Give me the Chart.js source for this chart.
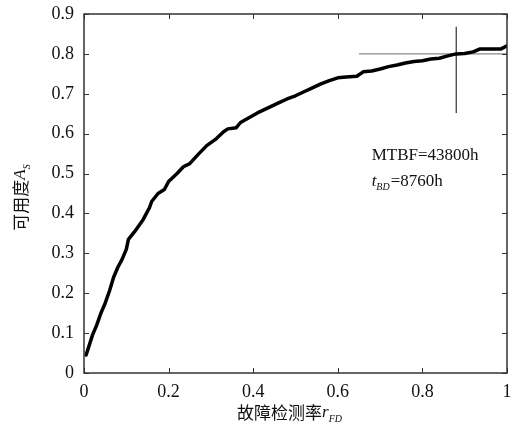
<!DOCTYPE html>
<html><head><meta charset="utf-8">
<script src="https://cdn.jsdelivr.net/npm/chart.js@4.4.0/dist/chart.umd.min.js"></script>
<style>html,body{margin:0;padding:0;background:#fff}#wrap{width:519px;height:432px}</style>
</head><body><div id="wrap"><canvas id="c" width="519" height="432"></canvas></div>
<script>
const rFD = [0.005,0.02,0.03,0.04,0.05,0.06,0.07,0.08,0.09,0.10,0.105,0.12,0.14,0.155,0.16,0.175,0.19,0.2,0.22,0.235,0.25,0.27,0.29,0.31,0.33,0.34,0.36,0.37,0.39,0.41,0.44,0.46,0.48,0.50,0.52,0.54,0.56,0.58,0.60,0.62,0.645,0.66,0.68,0.70,0.72,0.74,0.76,0.78,0.80,0.82,0.84,0.86,0.88,0.90,0.92,0.935,0.96,0.985,1.0];
const As  = [0.045,0.095,0.12,0.15,0.175,0.205,0.24,0.265,0.285,0.31,0.335,0.355,0.385,0.415,0.43,0.45,0.46,0.48,0.50,0.517,0.525,0.548,0.57,0.585,0.605,0.612,0.615,0.628,0.64,0.652,0.667,0.677,0.687,0.695,0.705,0.715,0.725,0.733,0.74,0.742,0.744,0.755,0.757,0.762,0.768,0.772,0.777,0.781,0.783,0.787,0.789,0.795,0.800,0.801,0.805,0.812,0.812,0.812,0.82];
const hLineX = [0.65, 1.0];
const hLineY = [0.8, 0.8];
const vLineX = [0.88, 0.88];
const vLineY = [0.652, 0.868];
const xTicks = [0,0.2,0.4,0.6,0.8,1];
const yTicks = [0,0.1,0.2,0.3,0.4,0.5,0.6,0.7,0.8,0.9];
const note1 = "MTBF=43800h";
const note2sym = "t", note2sub = "BD", note2rest = "=8760h";
const notePos = {x:0.68, y1:0.546, y2:0.479};
const xTitle = ["故障检测率","r","FD"];
const yTitle = ["可用度","A","S"];

const zip = (a,b)=>a.map((v,i)=>({x:v,y:b[i]}));
const SERIF = '"Liberation Serif","Times New Roman",serif';
const CJK = '"Noto Sans CJK SC",sans-serif';

const deco = {
  id:'deco',
  afterDraw(chart){
    const {ctx, chartArea:a, scales:{x,y}} = chart;
    ctx.save();
    ctx.strokeStyle='#333'; ctx.lineWidth=1.5;
    ctx.strokeRect(a.left,a.top,a.right-a.left,a.bottom-a.top);
    ctx.lineWidth=1;
    const L=5;
    xTicks.forEach(v=>{ const px=Math.round(x.getPixelForValue(v))+0.5;
      ctx.beginPath(); ctx.moveTo(px,a.bottom); ctx.lineTo(px,a.bottom-L);
      ctx.moveTo(px,a.top); ctx.lineTo(px,a.top+L); ctx.stroke(); });
    yTicks.forEach(v=>{ const py=Math.round(y.getPixelForValue(v))+0.5;
      ctx.beginPath(); ctx.moveTo(a.left,py); ctx.lineTo(a.left+L,py);
      ctx.moveTo(a.right,py); ctx.lineTo(a.right-L,py); ctx.stroke(); });
    ctx.fillStyle='#111'; ctx.textBaseline='middle'; ctx.textAlign='left';
    const nx=x.getPixelForValue(notePos.x);
    ctx.font='17px '+SERIF;
    ctx.fillText(note1,nx,y.getPixelForValue(notePos.y1));
    let ny=y.getPixelForValue(notePos.y2);
    ctx.font='italic 17px '+SERIF;
    ctx.fillText(note2sym,nx,ny);
    let w=ctx.measureText(note2sym).width;
    ctx.font='italic 10px '+SERIF;
    ctx.fillText(note2sub,nx+w,ny+5);
    w+=ctx.measureText(note2sub).width+1;
    ctx.font='17px '+SERIF;
    ctx.fillText(note2rest,nx+w,ny);
    const cx=(a.left+a.right)/2, ty=413;
    ctx.font='17px '+CJK; const w0=ctx.measureText(xTitle[0]).width;
    ctx.font='italic 17px '+SERIF; const w1=ctx.measureText(xTitle[1]).width;
    ctx.font='italic 10px '+SERIF; const w2=ctx.measureText(xTitle[2]).width;
    let sx=cx-(w0+w1+w2)/2-6;
    ctx.font='17px '+CJK; ctx.fillText(xTitle[0],sx,ty);
    ctx.font='italic 17px '+SERIF; ctx.fillText(xTitle[1],sx+w0,ty);
    ctx.font='italic 10px '+SERIF; ctx.fillText(xTitle[2],sx+w0+w1,ty+6);
    ctx.translate(21,(a.top+a.bottom)/2);
    ctx.rotate(-Math.PI/2);
    ctx.font='17px '+CJK; const v0=ctx.measureText(yTitle[0]).width;
    ctx.font='italic 17px '+SERIF; const v1=ctx.measureText(yTitle[1]).width;
    ctx.font='italic 10px '+SERIF; const v2=ctx.measureText(yTitle[2]).width;
    sx=-(v0+v1+v2)/2-4;
    ctx.font='17px '+CJK; ctx.fillText(yTitle[0],sx,0);
    ctx.font='italic 17px '+SERIF; ctx.fillText(yTitle[1],sx+v0,0);
    ctx.font='italic 10px '+SERIF; ctx.fillText(yTitle[2],sx+v0+v1,6);
    ctx.restore();
  }
};

new Chart(document.getElementById('c'),{
  type:'scatter',
  data:{datasets:[
    {data:zip(rFD,As),showLine:true,borderColor:'#000',borderWidth:3.5,pointRadius:0,tension:0,borderJoinStyle:'round',borderCapStyle:'round'},
    {data:zip(hLineX,hLineY),showLine:true,borderColor:'#8a8a8a',borderWidth:1.2,pointRadius:0},
    {data:zip(vLineX,vLineY),showLine:true,borderColor:'#333',borderWidth:1.2,pointRadius:0}
  ]},
  options:{
    responsive:false,animation:false,
    layout:{padding:{left:0,right:12,top:14,bottom:0}},
    plugins:{legend:{display:false},tooltip:{enabled:false}},
    scales:{
      x:{type:'linear',min:0,max:1,
        afterBuildTicks:s=>{s.ticks=xTicks.map(v=>({value:v}));},
        afterFit:s=>{s.height=59;},
        grid:{display:false},border:{display:false},
        ticks:{padding:0,color:'#111',font:{family:SERIF,size:18},maxRotation:0,
          callback:v=>(v===0||v===1)?String(v):v.toFixed(1)}},
      y:{type:'linear',min:0,max:0.9,
        afterBuildTicks:s=>{s.ticks=yTicks.map(v=>({value:v}));},
        afterFit:s=>{s.width=84;},
        grid:{display:false},border:{display:false},
        ticks:{padding:2,color:'#111',font:{family:SERIF,size:18},
          callback:v=>v===0?'0':v.toFixed(1)}}
    }
  },
  plugins:[deco]
});
</script></body></html>
